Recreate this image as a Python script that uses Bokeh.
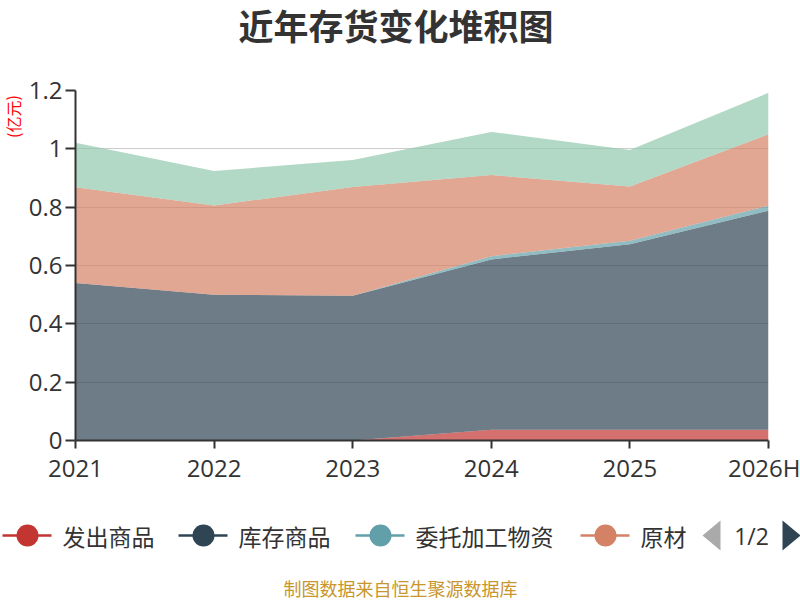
from bokeh.plotting import figure
from bokeh.models import ColumnDataSource, Range1d, FixedTicker
from bokeh.layouts import column, row
from bokeh.embed import file_html
from bokeh.resources import INLINE
from bokeh.core.properties import value

# ---------------- data ----------------
years = ["2021", "2022", "2023", "2024", "2025", "2026H"]
fachu_shangpin = [0.0, 0.0, 0.0, 0.037, 0.037, 0.037]          # 发出商品
kucun_shangpin = [0.540, 0.500, 0.496, 0.584, 0.636, 0.751]    # 库存商品
weituo_jiagong = [0.0, 0.0, 0.0, 0.011, 0.012, 0.017]          # 委托加工物资
yuancailiao = [0.328, 0.306, 0.373, 0.278, 0.186, 0.245]       # 原材料
zaichanpin = [0.153, 0.118, 0.093, 0.148, 0.125, 0.142]        # 在产品
series_names = ["发出商品", "库存商品", "委托加工物资", "原材料", "在产品"]
legend_shown = ["发出商品", "库存商品", "委托加工物资", "原材"]
y_ticks = [0, 0.2, 0.4, 0.6, 0.8, 1.0, 1.2]
y_tick_labels = ["0", "0.2", "0.4", "0.6", "0.8", "1", "1.2"]
title_text = "近年存货变化堆积图"
unit_text = "(亿元)"
source_text = "制图数据来自恒生聚源数据库"
page_text = "1/2"

# ---------------- style / layout ----------------
colors = ["#c23531", "#2f4554", "#61a0a8", "#d48265", "#91c7ae"]
CJK = "Noto Sans CJK SC"
NUM = "Open Sans"
W = 800
TH, MH, LH = 60, 430, 110   # heights of title strip, chart, legend strip
UW = 24                     # width of the unit-label strip left of the chart


def strip(w, h):
    f = figure(width=w, height=h, x_range=Range1d(0, w), y_range=Range1d(h, 0),
               output_backend="svg", toolbar_location=None, min_border=0,
               frame_align=False)
    f.axis.visible = False
    f.grid.visible = False
    f.outline_line_color = None
    f.title.visible = False
    return f


# ---------------- title strip ----------------
pt = strip(W, TH)
pt.text(x=[395.5], y=[23.5], text=[title_text], text_font=value(CJK),
        text_font_size="35px", text_font_style="bold", text_color="#333333",
        text_align="center", text_baseline="middle")

# ---------------- unit strip ----------------
pu = strip(UW, MH)
pu.text(x=[12], y=[116 - TH], text=[unit_text], angle=1.5708, text_font=value(CJK),
        text_font_size="16px", text_color="#ff0000", text_align="center",
        text_baseline="middle")

# ---------------- main chart ----------------
src = ColumnDataSource(dict(
    x=list(range(len(years))),
    s0=fachu_shangpin, s1=kucun_shangpin, s2=weituo_jiagong, s3=yuancailiao, s4=zaichanpin,
))
p = figure(width=W - UW, height=MH, x_range=Range1d(0, len(years) - 1),
           y_range=Range1d(0, 1.2), output_backend="svg", toolbar_location=None,
           frame_align=False,
           min_border_left=75 - UW, min_border_right=32, min_border_top=90 - TH,
           min_border_bottom=MH - (440 - TH))
p.title.visible = False
p.outline_line_color = None
p.varea_stack(stackers=["s0", "s1", "s2", "s3", "s4"], x="x", color=colors,
              fill_alpha=0.7, source=src)

p.xgrid.visible = False
p.ygrid.ticker = FixedTicker(ticks=y_ticks)
p.ygrid.grid_line_color = "#cccccc"
p.ygrid.grid_line_width = 1

p.yaxis.ticker = FixedTicker(ticks=y_ticks)
p.yaxis.major_label_overrides = {t: l for t, l in zip(y_ticks, y_tick_labels)}
p.xaxis.ticker = FixedTicker(ticks=list(range(len(years))))
p.xaxis.major_label_overrides = {i: y for i, y in enumerate(years)}
for ax in (p.xaxis, p.yaxis):
    ax.axis_line_color = "#333333"
    ax.axis_line_width = 2
    ax.major_tick_line_color = "#333333"
    ax.major_tick_line_width = 2
    ax.major_tick_in = 0
    ax.minor_tick_line_color = None
    ax.major_label_text_font = NUM
    ax.major_label_text_font_size = "24px"
    ax.major_label_text_color = "#333333"
p.yaxis.major_tick_out = 10
p.yaxis.major_label_standoff = 3
p.xaxis.major_tick_out = 8
p.xaxis.major_label_standoff = 2

# ---------------- legend + footer strip ----------------
pl = strip(W, LH)
LY = 535 - (TH + MH)
item_x = [2, 178, 355, 580]   # left end of each legend line (px)
for i, name in enumerate(legend_shown):
    x0 = item_x[i]
    pl.line(x=[x0, x0 + 49], y=[LY, LY], line_color=colors[i], line_width=2.5)
    pl.scatter(x=[x0 + 25], y=[LY], size=22, marker="circle", fill_color=colors[i],
               line_color=None)
pl.text(x=[x + 60 for x in item_x], y=[LY] * len(legend_shown), text=legend_shown,
        text_font=value(CJK), text_font_size="23px", text_color="#333333",
        text_align="left", text_baseline="middle")
pl.patch(x=[702, 720, 720], y=[LY, LY - 15, LY + 15], fill_color="#aaaaaa", line_color=None)
pl.text(x=[751], y=[LY], text=[page_text], text_font=value(NUM), text_font_size="23px",
        text_color="#333333", text_align="center", text_baseline="middle")
pl.patch(x=[782, 800, 782], y=[LY - 15, LY, LY + 15], fill_color="#2f4554", line_color=None)
pl.text(x=[400], y=[587 - (TH + MH)], text=[source_text], text_font=value(CJK),
        text_font_size="18px", text_color="#c8962c", text_align="center",
        text_baseline="middle")

layout = column(pt, row(pu, p, spacing=0), pl, spacing=0)
open("out.html", "w").write(file_html(layout, INLINE))
